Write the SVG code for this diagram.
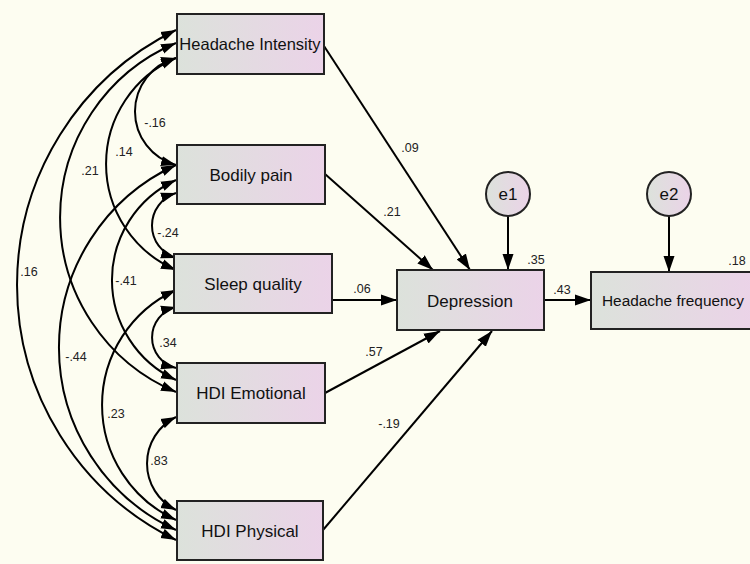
<svg xmlns="http://www.w3.org/2000/svg" width="750" height="564" viewBox="0 0 750 564">
<defs>
<linearGradient id="g" x1="0" y1="0" x2="1" y2="0">
<stop offset="0" stop-color="#DCE2DB"/>
<stop offset="1" stop-color="#EBD3E8"/>
</linearGradient>
<marker id="ac" markerUnits="userSpaceOnUse" markerWidth="16" markerHeight="11" refX="15" refY="5" orient="auto-start-reverse" viewBox="0 0 16 10">
<path d="M0,0 L15,5 L0,10 z" fill="#000"/>
</marker>
<marker id="as" markerUnits="userSpaceOnUse" markerWidth="17" markerHeight="12" refX="16" refY="5.5" orient="auto" viewBox="0 0 17 11">
<path d="M0,0 L16,5.5 L0,11 z" fill="#000"/>
</marker>
</defs>
<style>
.box{fill:url(#g);stroke:#222;stroke-width:2}
.lbl{font-family:"Liberation Sans",Arial,sans-serif;font-size:17px;fill:#111;text-anchor:middle}
.num{font-family:"Liberation Sans",Arial,sans-serif;font-size:12.5px;fill:#222;text-anchor:middle}
.cov{fill:none;stroke:#000;stroke-width:2;marker-start:url(#ac);marker-end:url(#ac)}
.reg{fill:none;stroke:#000;stroke-width:2;marker-end:url(#as)}
</style>
<rect width="750" height="564" fill="#FDFDF1"/>

<g id="connectors">
<path class="cov" d="M176 30 A284 284 0 0 0 176 540"/>
<path class="cov" d="M176 43 A189.3 189.3 0 0 0 176 392"/>
<path class="cov" d="M176 58 A115.3 115.3 0 0 0 176 270"/>
<path class="cov" d="M176 58 A55.4 55.4 0 0 0 176 165"/>
<path class="cov" d="M176 193 A34 34 0 0 0 176 258"/>
<path class="cov" d="M176 180 A110.1 110.1 0 0 0 176 380"/>
<path class="cov" d="M176 165 A200.8 200.8 0 0 0 176 530"/>
<path class="cov" d="M176 307 A31.4 31.4 0 0 0 176 368"/>
<path class="cov" d="M176 290 A126.4 126.4 0 0 0 176 520"/>
<path class="cov" d="M176 417 A51.8 51.8 0 0 0 176 510"/>

<path class="reg" d="M324 46 L470 270"/>
<path class="reg" d="M325 174 L433 270"/>
<path class="reg" d="M332 300 L397 300"/>
<path class="reg" d="M325 393 L440 331"/>
<path class="reg" d="M323 530 L492 331"/>
<path class="reg" d="M508 216 L508 270"/>
<path class="reg" d="M669 216 L669 272"/>
<path class="reg" d="M544 300 L591 300"/>

<text class="num" x="29" y="276">.16</text>
<text class="num" x="90" y="175">.21</text>
<text class="num" x="124" y="156">.14</text>
<text class="num" x="155" y="127">-.16</text>
<text class="num" x="168" y="237">-.24</text>
<text class="num" x="126" y="285">-.41</text>
<text class="num" x="168" y="347">.34</text>
<text class="num" x="76" y="361">-.44</text>
<text class="num" x="116" y="418">.23</text>
<text class="num" x="159" y="465">.83</text>

<text class="num" x="410" y="152">.09</text>
<text class="num" x="392" y="216">.21</text>
<text class="num" x="362" y="293">.06</text>
<text class="num" x="374" y="356">.57</text>
<text class="num" x="389" y="428">-.19</text>
<text class="num" x="536" y="264">.35</text>
<text class="num" x="562" y="294">.43</text>
<text class="num" x="737" y="265">.18</text>
</g>

<g id="headache-intensity">
<rect class="box" x="177" y="14" width="147" height="60"/>
<text class="lbl" x="250" y="50" style="font-size:16.5px">Headache Intensity</text>
</g>
<g id="bodily-pain">
<rect class="box" x="177" y="145" width="148" height="59"/>
<text class="lbl" x="251" y="181">Bodily pain</text>
</g>
<g id="sleep-quality">
<rect class="box" x="174" y="254" width="158" height="59"/>
<text class="lbl" x="253" y="290">Sleep quality</text>
</g>
<g id="hdi-emotional">
<rect class="box" x="177" y="363" width="148" height="60"/>
<text class="lbl" x="251" y="399">HDI Emotional</text>
</g>
<g id="hdi-physical">
<rect class="box" x="177" y="501" width="146" height="59"/>
<text class="lbl" x="250" y="537">HDI Physical</text>
</g>
<g id="depression">
<rect class="box" x="397" y="270" width="147" height="60"/>
<text class="lbl" x="470" y="307">Depression</text>
</g>
<g id="headache-frequency">
<rect class="box" x="591" y="272" width="162" height="57"/>
<text class="lbl" x="673" y="306" style="font-size:15.4px">Headache frequency</text>
</g>
<g id="e1">
<circle class="box" cx="508" cy="194" r="22"/>
<text class="lbl" x="508" y="200">e1</text>
</g>
<g id="e2">
<circle class="box" cx="669" cy="194" r="22"/>
<text class="lbl" x="669" y="200">e2</text>
</g>
</svg>
